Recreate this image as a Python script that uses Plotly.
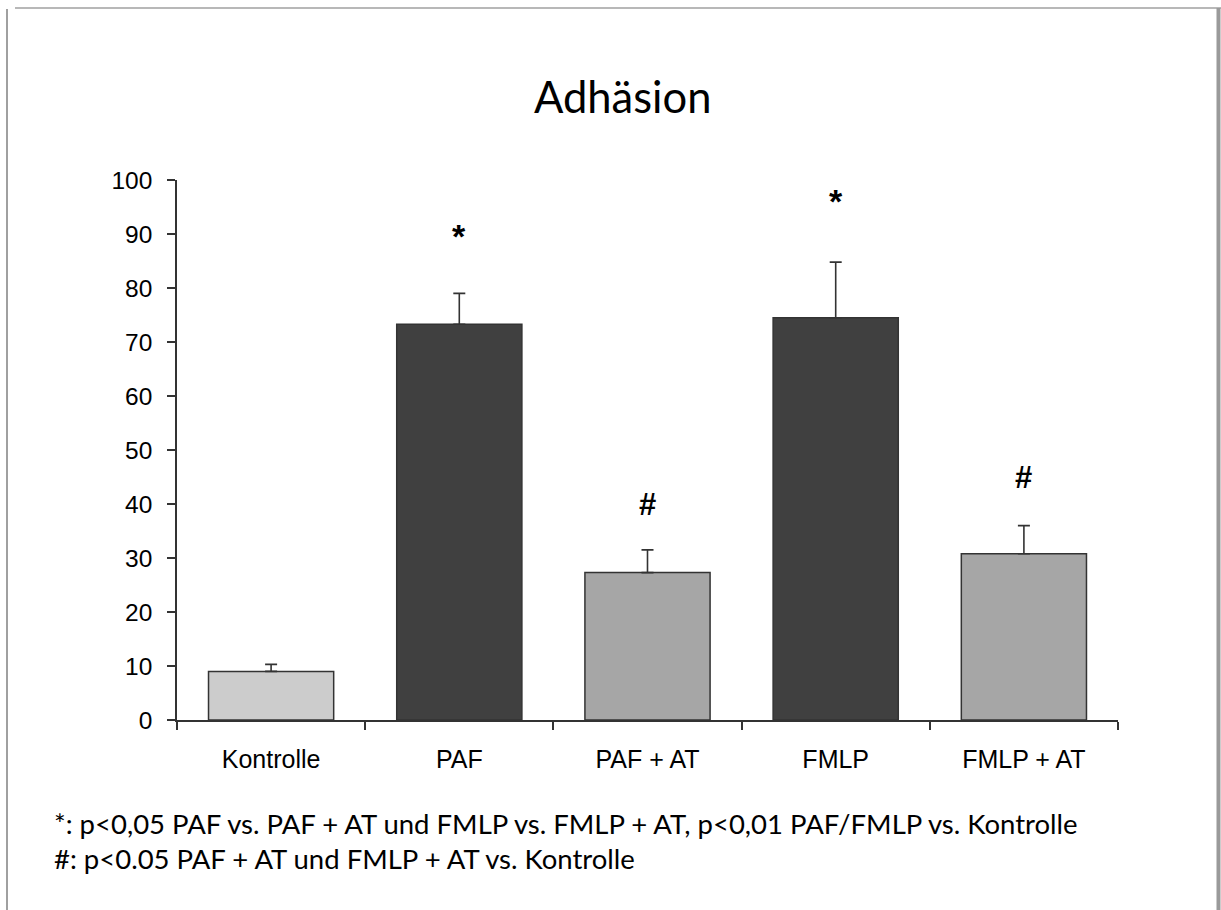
import plotly.graph_objects as go

categories = ["Kontrolle", "PAF", "PAF + AT", "FMLP", "FMLP + AT"]
values = [9.0, 73.3, 27.3, 74.5, 30.8]
errors_plus = [1.3, 5.7, 4.2, 10.3, 5.2]
bar_colors = ["#cccccc", "#404040", "#a6a6a6", "#404040", "#a6a6a6"]
y_ticks = [0, 10, 20, 30, 40, 50, 60, 70, 80, 90, 100]

sig_labels = ["", "*", "#", "*", "#"]
sig_heights = [None, 89.7, 40.0, 96.2, 45.0]

title_text = "Adhäsion"
footnote_1 = "*: p<0,05 PAF vs. PAF + AT und FMLP vs. FMLP + AT, p<0,01 PAF/FMLP vs. Kontrolle"
footnote_2 = "#: p<0.05 PAF + AT und FMLP + AT vs. Kontrolle"

W, H = 1221, 910
L, R, T, B = 177, 103, 180, 190
pw, ph = W - L - R, H - T - B


def px(x):
    return (x - L) / pw


def py(y):
    return (H - B - y) / ph


fig = go.Figure()
fig.add_trace(go.Bar(
    x=categories,
    y=values,
    marker=dict(color=bar_colors, line=dict(color="#333333", width=1.5)),
    error_y=dict(type="data", symmetric=False, array=errors_plus,
                 arrayminus=[0] * len(values), color="#333333",
                 thickness=1.6, width=6),
    width=0.665,
))

annotations = []
for c, lab, h in zip(categories, sig_labels, sig_heights):
    if not lab:
        continue
    if lab == "*":
        text, size = "<b>*</b>", 34
    else:
        text, size = "<b>#</b>", 31
    annotations.append(dict(
        x=c, y=h, xref="x", yref="y", text=text, showarrow=False,
        font=dict(family="Liberation Sans", size=size, color="#000000"),
        yanchor="middle",
    ))

annotations.append(dict(
    x=px(622), y=py(96), xref="paper", yref="paper", text=title_text,
    showarrow=False, font=dict(family="Lato", size=43.5, color="#000000"),
    xanchor="center", yanchor="middle",
))
annotations.append(dict(
    x=px(52), y=py(823), xref="paper", yref="paper", text=footnote_1,
    showarrow=False, font=dict(family="Lato", size=27.5, color="#000000"),
    xanchor="left", yanchor="middle",
))
annotations.append(dict(
    x=px(52), y=py(858), xref="paper", yref="paper", text=footnote_2,
    showarrow=False, font=dict(family="Lato", size=27.5, color="#000000"),
    xanchor="left", yanchor="middle",
))

shapes = [
    dict(type="line", xref="paper", yref="paper", x0=px(15), x1=px(1221),
         y0=py(8), y1=py(8), line=dict(color="#a0a0a0", width=1.5)),
    dict(type="line", xref="paper", yref="paper", x0=px(7), x1=px(7),
         y0=py(9), y1=py(910), line=dict(color="#a0a0a0", width=2)),
    dict(type="line", xref="paper", yref="paper", x0=px(1218.5), x1=px(1218.5),
         y0=py(8), y1=py(910), line=dict(color="#9a9a9a", width=4)),
]

fig.update_layout(
    width=W, height=H,
    margin=dict(l=L, r=R, t=T, b=B, pad=0),
    paper_bgcolor="#ffffff", plot_bgcolor="#ffffff",
    showlegend=False,
    annotations=annotations,
    shapes=shapes,
    bargap=0.335,
)
fig.update_xaxes(
    type="category", showline=True, linecolor="#333333", linewidth=1.5,
    ticks="outside", tickson="boundaries", ticklen=8, tickwidth=1.5,
    tickcolor="#333333", showgrid=False, zeroline=False,
    tickfont=dict(family="Liberation Sans", size=25, color="#000000"),
    ticklabelstandoff=16,
)
fig.update_yaxes(
    range=[0, 100], tickvals=y_ticks, showline=True, linecolor="#333333",
    linewidth=1.5, ticks="outside", ticklen=8, tickwidth=1.5,
    tickcolor="#333333", showgrid=False, zeroline=False,
    tickfont=dict(family="Liberation Sans", size=24.5, color="#000000"),
    ticklabelstandoff=10,
)

fig.write_html("out.html",
               config={"displayModeBar": False},
               post_script="document.body.style.margin='0';"
                           "document.body.style.overflow='hidden';")
